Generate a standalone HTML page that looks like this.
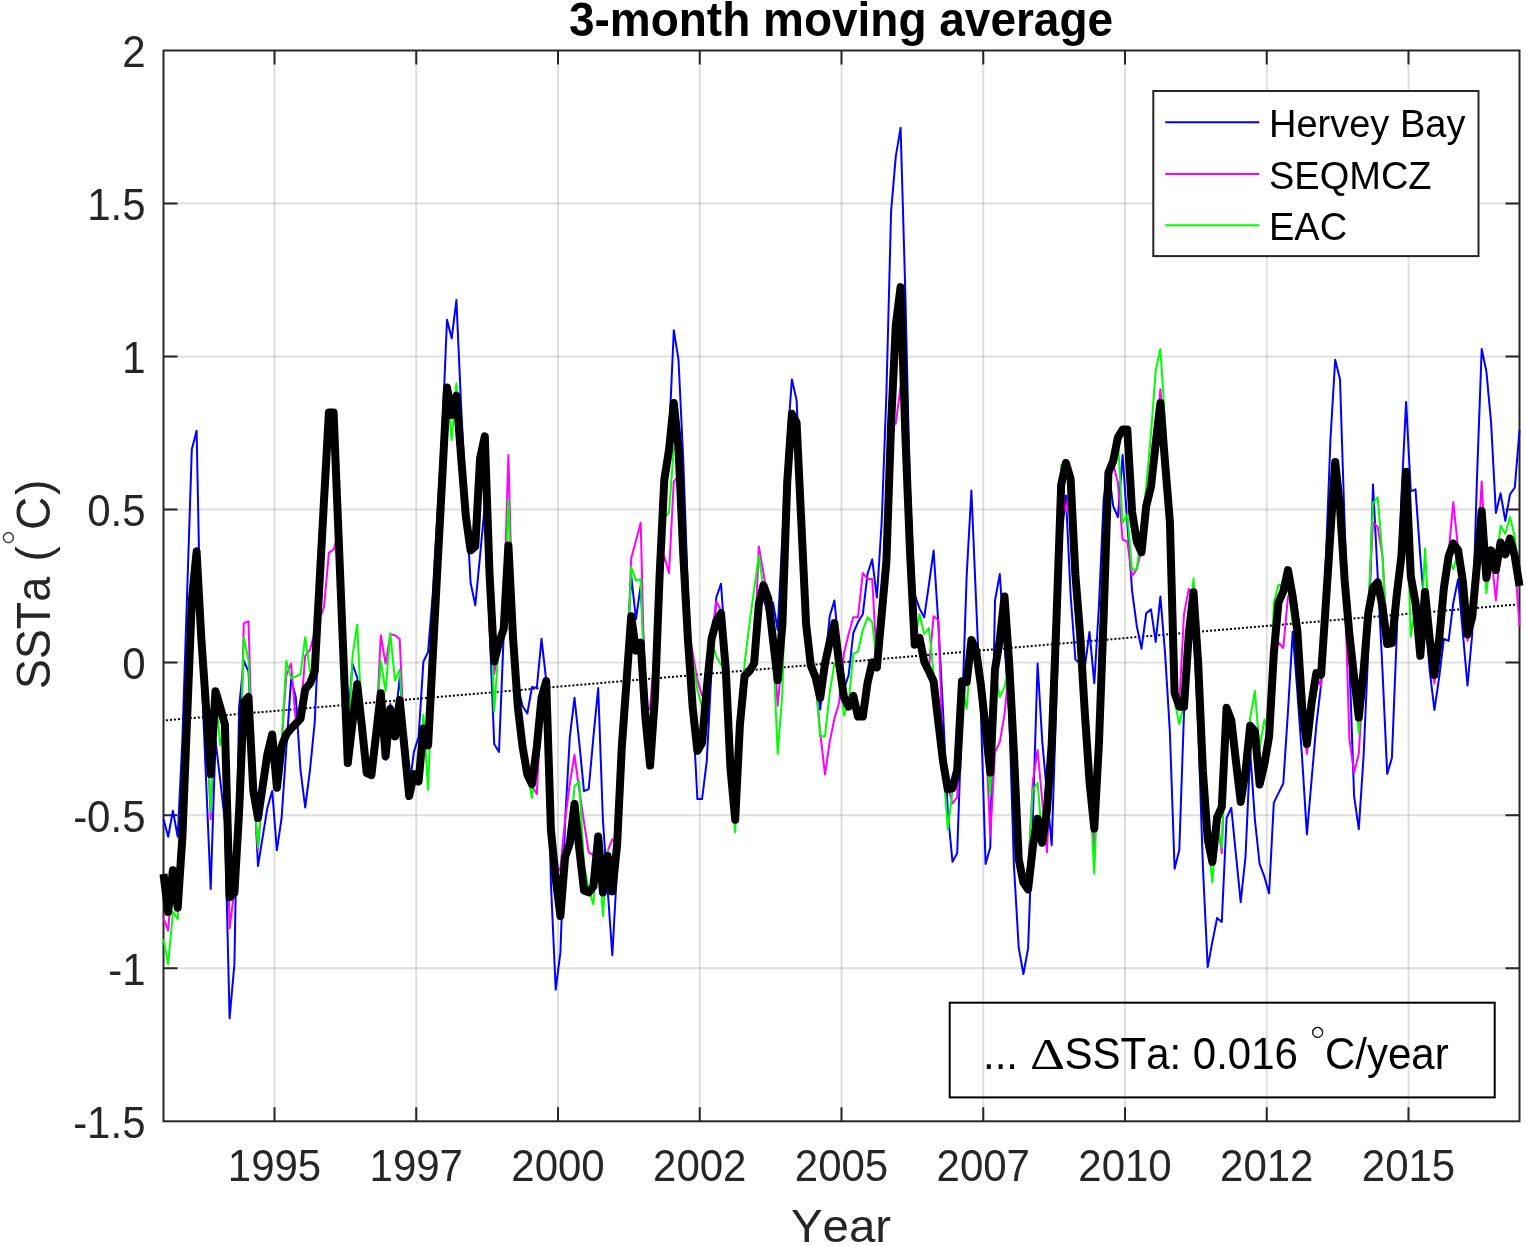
<!DOCTYPE html><html><head><meta charset="utf-8"><style>html,body{margin:0;padding:0;background:#fff}svg{display:block}text{font-family:"Liberation Sans",Arial,sans-serif;font-kerning:none}</style></head><body>
<svg width="1526" height="1246" viewBox="0 0 1526 1246">
<rect width="1526" height="1246" fill="#fff"/>
<path d="M274.50 50.5V1121.3M416.25 50.5V1121.3M558.00 50.5V1121.3M699.75 50.5V1121.3M841.50 50.5V1121.3M983.25 50.5V1121.3M1125.00 50.5V1121.3M1266.75 50.5V1121.3M1408.50 50.5V1121.3" stroke="#262626" stroke-opacity="0.15" stroke-width="2" fill="none"/>
<path d="M163.5 203.47H1519.5M163.5 356.44H1519.5M163.5 509.41H1519.5M163.5 662.38H1519.5M163.5 815.35H1519.5M163.5 968.32H1519.5" stroke="#262626" stroke-opacity="0.15" stroke-width="2" fill="none"/>
<path d="M274.50 1121.3V1107.3M274.50 50.5V64.5M416.25 1121.3V1107.3M416.25 50.5V64.5M558.00 1121.3V1107.3M558.00 50.5V64.5M699.75 1121.3V1107.3M699.75 50.5V64.5M841.50 1121.3V1107.3M841.50 50.5V64.5M983.25 1121.3V1107.3M983.25 50.5V64.5M1125.00 1121.3V1107.3M1125.00 50.5V64.5M1266.75 1121.3V1107.3M1266.75 50.5V64.5M1408.50 1121.3V1107.3M1408.50 50.5V64.5M163.5 203.47H177.5M1519.5 203.47H1505.5M163.5 356.44H177.5M1519.5 356.44H1505.5M163.5 509.41H177.5M1519.5 509.41H1505.5M163.5 662.38H177.5M1519.5 662.38H1505.5M163.5 815.35H177.5M1519.5 815.35H1505.5M163.5 968.32H177.5M1519.5 968.32H1505.5" stroke="#262626" stroke-width="2" fill="none"/>
<rect x="163.5" y="50.5" width="1356.0" height="1070.8" fill="none" stroke="#262626" stroke-width="2"/>
<g fill="none" stroke-linejoin="round" stroke-linecap="butt">
<path d="M163.5 720.51L1519.5 604.25" stroke="#000" stroke-width="2" stroke-dasharray="2 2" stroke-dashoffset="1.6"/>
<path d="M163.5,819.1 L168.2,836.8 L172.9,810.7 L177.7,836.8 L182.4,739.0 L187.1,594.2 L191.8,449.4 L196.6,430.8 L201.3,667.6 L206.0,778.3 L210.7,889.0 L215.5,740.4 L220.2,780.1 L224.9,821.7 L229.6,1018.3 L234.4,964.1 L239.1,707.0 L243.8,660.8 L248.5,671.6 L253.3,768.8 L258.0,866.0 L262.7,836.9 L267.4,807.7 L272.2,790.9 L276.9,850.3 L281.6,818.0 L286.3,748.7 L291.1,679.4 L295.8,697.1 L300.5,770.0 L305.2,807.5 L310.0,770.0 L314.7,722.7 L319.4,619.3 L324.1,515.9 L328.9,412.5 L333.6,412.5 L338.3,529.3 L343.0,626.5 L347.8,723.7 L352.5,663.7 L357.2,677.5 L361.9,722.0 L366.7,770.8 L371.4,775.2 L376.1,735.5 L380.8,695.8 L385.6,760.0 L390.3,704.0 L395.0,722.7 L399.7,677.5 L404.5,733.0 L409.2,788.5 L413.9,751.9 L418.6,736.9 L423.4,661.7 L428.1,651.9 L432.8,593.6 L437.5,512.7 L442.3,431.7 L447.0,319.7 L451.7,338.3 L456.4,300.0 L461.2,407.8 L465.9,498.3 L470.6,582.8 L475.3,605.4 L480.1,555.3 L484.8,505.2 L489.5,624.6 L494.2,744.0 L499.0,751.9 L503.7,634.9 L508.4,549.4 L513.1,640.8 L517.9,687.3 L522.6,706.3 L527.3,713.5 L532.0,687.0 L536.8,688.0 L541.5,638.8 L546.2,680.1 L550.9,882.6 L555.7,989.7 L560.4,952.4 L565.1,821.7 L569.8,737.1 L574.5,697.8 L579.3,743.0 L584.0,791.2 L588.7,789.2 L593.4,737.1 L598.2,688.0 L602.9,819.7 L607.6,888.5 L612.3,955.3 L617.1,868.8 L621.8,749.3 L626.5,663.1 L631.2,575.9 L636.0,619.2 L640.7,585.7 L645.4,679.5 L650.1,746.6 L654.9,697.8 L659.6,572.0 L664.3,471.7 L669.0,438.3 L673.8,330.2 L678.5,359.7 L683.2,458.0 L687.9,591.3 L692.7,708.0 L697.4,799.1 L702.1,799.1 L706.8,760.7 L711.6,668.3 L716.3,597.5 L721.0,583.8 L725.7,648.7 L730.5,755.6 L735.2,813.4 L739.9,715.5 L744.6,669.5 L749.4,668.2 L754.1,663.5 L758.8,610.4 L763.5,597.2 L768.3,616.3 L773.0,602.5 L777.7,630.0 L782.4,536.7 L787.2,443.3 L791.9,379.4 L796.6,400.1 L801.3,506.9 L806.1,616.6 L810.8,669.4 L815.5,685.1 L820.2,709.7 L825.0,663.0 L829.7,616.3 L834.4,600.5 L839.1,648.4 L843.9,689.4 L848.6,675.3 L853.3,633.0 L858.0,622.2 L862.8,614.3 L867.5,574.0 L872.2,559.3 L876.9,597.6 L881.7,522.0 L886.4,394.2 L891.1,211.3 L895.8,156.3 L900.6,127.8 L905.3,291.9 L910.0,492.5 L914.7,594.7 L919.5,608.4 L924.2,617.3 L928.9,584.8 L933.6,550.5 L938.4,624.2 L943.1,712.6 L947.8,812.4 L952.5,861.9 L957.2,853.1 L962.0,714.1 L966.7,575.0 L971.4,490.5 L976.1,601.6 L980.9,712.6 L985.6,863.9 L990.3,847.2 L995.0,600.5 L999.8,574.1 L1004.5,643.4 L1009.2,712.6 L1013.9,864.9 L1018.7,947.5 L1023.4,974.0 L1028.1,948.4 L1032.8,819.7 L1037.6,663.5 L1042.3,742.1 L1047.0,793.7 L1051.7,845.2 L1056.5,696.5 L1061.2,539.9 L1065.9,495.4 L1070.6,594.7 L1075.4,659.5 L1080.1,663.5 L1084.8,667.4 L1089.5,632.0 L1094.3,683.2 L1099.0,604.5 L1103.7,498.4 L1108.4,468.9 L1113.2,506.2 L1117.9,517.0 L1122.6,455.1 L1127.3,522.9 L1132.1,590.8 L1136.8,626.1 L1141.5,648.7 L1146.2,613.3 L1151.0,609.4 L1155.7,641.9 L1160.4,596.6 L1165.1,653.7 L1169.9,732.3 L1174.6,868.8 L1179.3,850.1 L1184.0,712.6 L1188.8,634.0 L1193.5,624.2 L1198.2,727.3 L1202.9,866.8 L1207.7,967.1 L1212.4,941.6 L1217.1,918.0 L1221.8,921.9 L1226.6,818.0 L1231.3,807.9 L1236.0,855.1 L1240.7,902.2 L1245.5,857.0 L1250.2,751.5 L1254.9,819.6 L1259.6,863.9 L1264.4,876.7 L1269.1,893.4 L1273.8,802.9 L1278.5,793.1 L1283.3,783.4 L1288.0,711.0 L1292.7,631.7 L1297.4,692.5 L1302.2,759.2 L1306.9,834.4 L1311.6,779.6 L1316.3,725.3 L1321.1,684.2 L1325.8,561.3 L1330.5,438.3 L1335.2,359.7 L1340.0,379.3 L1344.7,526.8 L1349.4,660.1 L1354.1,796.2 L1358.8,829.1 L1363.6,755.8 L1368.3,649.4 L1373.0,484.5 L1377.7,576.0 L1382.5,670.7 L1387.2,773.9 L1391.9,757.9 L1396.6,638.8 L1401.4,497.3 L1406.1,401.9 L1410.8,491.4 L1415.5,489.4 L1420.3,556.3 L1425.0,613.5 L1429.7,670.7 L1434.4,710.0 L1439.2,677.1 L1443.9,638.8 L1448.6,640.9 L1453.3,602.7 L1458.1,579.3 L1462.8,632.4 L1467.5,685.6 L1472.2,634.5 L1477.0,477.6 L1481.7,348.9 L1486.4,371.5 L1491.1,422.6 L1495.9,513.0 L1500.6,493.3 L1505.3,520.9 L1510.0,494.4 L1514.8,487.5 L1519.5,430.4" stroke="#0000ff" stroke-width="2"/>
<path d="M163.5,918.2 L168.2,930.7 L172.9,867.2 L177.7,904.7 L182.4,833.8 L187.1,715.8 L191.8,603.8 L196.6,547.7 L201.3,638.1 L206.0,709.2 L210.7,819.1 L215.5,694.2 L220.2,710.0 L224.9,727.6 L229.6,928.6 L234.4,890.1 L239.1,808.7 L243.8,623.4 L248.5,621.4 L253.3,787.9 L258.0,849.3 L262.7,789.1 L267.4,757.1 L272.2,737.5 L276.9,784.7 L281.6,743.3 L286.3,675.5 L291.1,663.7 L295.8,720.7 L300.5,715.8 L305.2,655.8 L310.0,649.9 L314.7,632.2 L319.4,619.5 L324.1,606.7 L328.9,552.6 L333.6,549.7 L338.3,532.3 L343.0,643.1 L347.8,760.0 L352.5,719.7 L357.2,681.3 L361.9,723.6 L366.7,770.1 L371.4,772.2 L376.1,731.2 L380.8,635.2 L385.6,663.7 L390.3,634.2 L395.0,635.2 L399.7,639.1 L404.5,745.1 L409.2,793.1 L413.9,771.2 L418.6,778.5 L423.4,725.6 L428.1,742.3 L432.8,652.8 L437.5,563.4 L442.3,479.9 L447.0,390.5 L451.7,417.9 L456.4,398.7 L461.2,458.0 L465.9,507.1 L470.6,547.4 L475.3,549.5 L480.1,461.0 L484.8,439.3 L489.5,629.0 L494.2,674.2 L499.0,641.8 L503.7,609.3 L508.4,455.0 L513.1,635.8 L517.9,704.6 L522.6,743.9 L527.3,771.5 L532.0,786.3 L536.8,794.1 L541.5,700.8 L546.2,684.1 L550.9,832.5 L555.7,875.7 L560.4,867.8 L565.1,819.8 L569.8,783.6 L574.5,754.8 L579.3,790.3 L584.0,822.0 L588.7,852.4 L593.4,855.1 L598.2,839.4 L602.9,889.4 L607.6,851.1 L612.3,839.3 L617.1,842.2 L621.8,743.9 L626.5,679.1 L631.2,558.2 L636.0,540.6 L640.7,522.8 L645.4,714.5 L650.1,707.6 L654.9,648.6 L659.6,578.9 L664.3,556.3 L669.0,573.0 L673.8,481.6 L678.5,475.7 L683.2,553.3 L687.9,631.0 L692.7,652.8 L697.4,680.1 L702.1,695.8 L706.8,685.0 L711.6,635.8 L716.3,601.5 L721.0,610.2 L725.7,665.3 L730.5,765.6 L735.2,816.7 L739.9,721.9 L744.6,672.7 L749.4,668.3 L754.1,660.5 L758.8,546.5 L763.5,573.1 L768.3,601.6 L773.0,642.9 L777.7,705.8 L782.4,653.7 L787.2,485.6 L791.9,416.8 L796.6,425.7 L801.3,525.0 L806.1,627.2 L810.8,668.4 L815.5,680.2 L820.2,732.3 L825.0,774.6 L829.7,742.1 L834.4,718.5 L839.1,702.8 L843.9,653.7 L848.6,634.0 L853.3,617.3 L858.0,617.3 L862.8,573.0 L867.5,579.0 L872.2,579.0 L876.9,663.5 L881.7,611.3 L886.4,558.3 L891.1,426.7 L895.8,423.7 L900.6,386.3 L905.3,430.5 L910.0,548.4 L914.7,641.8 L919.5,634.9 L924.2,658.5 L928.9,668.3 L933.6,616.3 L938.4,620.2 L943.1,758.8 L947.8,786.3 L952.5,803.5 L957.2,797.2 L962.0,684.2 L966.7,685.1 L971.4,642.9 L976.1,653.7 L980.9,688.1 L985.6,731.4 L990.3,836.4 L995.0,752.0 L999.8,742.1 L1004.5,714.6 L1009.2,666.5 L1013.9,755.0 L1018.7,856.0 L1023.4,879.6 L1028.1,872.7 L1032.8,781.5 L1037.6,750.0 L1042.3,801.1 L1047.0,852.1 L1051.7,747.1 L1056.5,621.3 L1061.2,487.6 L1065.9,512.1 L1070.6,481.7 L1075.4,578.0 L1080.1,637.0 L1084.8,715.6 L1089.5,784.5 L1094.3,853.1 L1099.0,745.1 L1103.7,617.3 L1108.4,475.8 L1113.2,464.0 L1117.9,482.6 L1122.6,539.6 L1127.3,541.6 L1132.1,576.0 L1136.8,569.1 L1141.5,549.4 L1146.2,503.2 L1151.0,483.6 L1155.7,440.3 L1160.4,389.2 L1165.1,460.0 L1169.9,519.0 L1174.6,690.0 L1179.3,703.7 L1184.0,614.3 L1188.8,588.8 L1193.5,595.2 L1198.2,666.5 L1202.9,768.1 L1207.7,836.3 L1212.4,862.9 L1217.1,820.7 L1221.8,853.1 L1226.6,710.8 L1231.3,723.5 L1236.0,764.8 L1240.7,804.9 L1245.5,774.6 L1250.2,728.7 L1254.9,734.4 L1259.6,781.5 L1264.4,764.3 L1269.1,733.4 L1273.8,656.7 L1278.5,642.5 L1283.3,648.1 L1288.0,596.4 L1292.7,599.8 L1297.4,634.5 L1302.2,711.0 L1306.9,753.8 L1311.6,705.7 L1316.3,676.1 L1321.1,686.3 L1325.8,607.0 L1330.5,535.0 L1335.2,464.9 L1340.0,510.1 L1344.7,583.8 L1349.4,738.8 L1354.1,772.8 L1358.8,753.6 L1363.6,673.7 L1368.3,610.3 L1373.0,522.8 L1377.7,526.8 L1382.5,556.3 L1387.2,641.1 L1391.9,640.0 L1396.6,593.3 L1401.4,559.3 L1406.1,474.7 L1410.8,579.3 L1415.5,605.7 L1420.3,652.8 L1425.0,595.0 L1429.7,641.8 L1434.4,683.5 L1439.2,638.1 L1443.9,590.8 L1448.6,553.3 L1453.3,502.2 L1458.1,548.4 L1462.8,583.8 L1467.5,640.9 L1472.2,614.5 L1477.0,561.4 L1481.7,481.6 L1486.4,574.9 L1491.1,553.4 L1495.9,600.5 L1500.6,545.5 L1505.3,557.3 L1510.0,541.6 L1514.8,559.3 L1519.5,626.0" stroke="#ff00ff" stroke-width="2"/>
<path d="M163.5,939.0 L168.2,964.1 L172.9,911.9 L177.7,919.2 L182.4,839.8 L187.1,721.8 L191.8,603.8 L196.6,554.6 L201.3,641.1 L206.0,709.2 L210.7,811.7 L215.5,694.2 L220.2,745.3 L224.9,723.7 L229.6,894.3 L234.4,890.1 L239.1,808.7 L243.8,637.2 L248.5,659.8 L253.3,787.9 L258.0,847.2 L262.7,789.1 L267.4,757.1 L272.2,737.5 L276.9,784.7 L281.6,743.3 L286.3,660.8 L291.1,678.4 L295.8,676.5 L300.5,674.5 L305.2,637.2 L310.0,671.6 L314.7,669.8 L319.4,588.2 L324.1,501.8 L328.9,415.5 L333.6,415.5 L338.3,532.3 L343.0,649.2 L347.8,760.0 L352.5,655.8 L357.2,624.4 L361.9,723.6 L366.7,770.1 L371.4,772.2 L376.1,731.2 L380.8,660.8 L385.6,691.2 L390.3,633.2 L395.0,680.4 L399.7,669.6 L404.5,745.1 L409.2,793.1 L413.9,771.2 L418.6,778.5 L423.4,714.8 L428.1,789.8 L432.8,658.9 L437.5,569.4 L442.3,479.9 L447.0,390.5 L451.7,439.9 L456.4,383.3 L461.2,455.0 L465.9,514.0 L470.6,547.4 L475.3,547.4 L480.1,461.0 L484.8,439.3 L489.5,576.0 L494.2,711.6 L499.0,640.8 L503.7,626.0 L508.4,499.3 L513.1,635.8 L517.9,704.6 L522.6,743.9 L527.3,771.5 L532.0,798.1 L536.8,750.0 L541.5,700.8 L546.2,684.1 L550.9,826.5 L555.7,875.7 L560.4,913.0 L565.1,854.0 L569.8,840.3 L574.5,786.3 L579.3,781.4 L584.0,864.9 L588.7,889.4 L593.4,904.2 L598.2,839.4 L602.9,916.0 L607.6,851.1 L612.3,888.4 L617.1,842.2 L621.8,743.9 L626.5,679.1 L631.2,567.1 L636.0,580.8 L640.7,578.9 L645.4,714.5 L650.1,717.4 L654.9,694.8 L659.6,578.9 L664.3,517.0 L669.0,513.0 L673.8,448.1 L678.5,451.1 L683.2,556.3 L687.9,636.0 L692.7,660.0 L697.4,690.0 L702.1,706.6 L706.8,689.9 L711.6,641.8 L716.3,656.5 L721.0,664.4 L725.7,671.3 L730.5,771.6 L735.2,832.5 L739.9,727.9 L744.6,663.7 L749.4,624.2 L754.1,590.0 L758.8,555.4 L763.5,588.3 L768.3,601.6 L773.0,642.9 L777.7,753.9 L782.4,693.0 L787.2,485.6 L791.9,416.8 L796.6,425.7 L801.3,525.0 L806.1,627.2 L810.8,668.4 L815.5,680.2 L820.2,736.2 L825.0,736.2 L829.7,693.0 L834.4,663.5 L839.1,666.5 L843.9,715.6 L848.6,703.7 L853.3,653.7 L858.0,651.7 L862.8,630.0 L867.5,617.3 L872.2,622.2 L876.9,663.5 L881.7,611.3 L886.4,558.3 L891.1,426.7 L895.8,328.3 L900.6,335.2 L905.3,430.5 L910.0,548.4 L914.7,641.8 L919.5,614.3 L924.2,634.0 L928.9,628.1 L933.6,673.3 L938.4,725.4 L943.1,764.8 L947.8,829.5 L952.5,791.3 L957.2,769.1 L962.0,684.2 L966.7,708.7 L971.4,642.9 L976.1,653.7 L980.9,688.1 L985.6,731.4 L990.3,795.2 L995.0,672.4 L999.8,696.9 L1004.5,687.1 L1009.2,666.5 L1013.9,755.0 L1018.7,856.0 L1023.4,879.6 L1028.1,870.8 L1032.8,790.3 L1037.6,782.9 L1042.3,839.8 L1047.0,806.8 L1051.7,741.1 L1056.5,615.3 L1061.2,464.9 L1065.9,466.0 L1070.6,481.7 L1075.4,578.0 L1080.1,637.0 L1084.8,715.6 L1089.5,784.5 L1094.3,873.7 L1099.0,745.1 L1103.7,617.3 L1108.4,475.8 L1113.2,447.2 L1117.9,440.4 L1122.6,522.9 L1127.3,514.1 L1132.1,570.1 L1136.8,569.1 L1141.5,531.8 L1146.2,486.6 L1151.0,433.5 L1155.7,370.6 L1160.4,348.9 L1165.1,423.7 L1169.9,525.0 L1174.6,700.8 L1179.3,724.4 L1184.0,703.7 L1188.8,631.0 L1193.5,578.5 L1198.2,660.5 L1202.9,768.1 L1207.7,836.3 L1212.4,882.6 L1217.1,820.7 L1221.8,848.2 L1226.6,710.8 L1231.3,723.5 L1236.0,764.8 L1240.7,798.9 L1245.5,768.6 L1250.2,717.9 L1254.9,691.0 L1259.6,748.7 L1264.4,719.6 L1269.1,733.4 L1273.8,602.7 L1278.5,584.7 L1283.3,585.7 L1288.0,584.8 L1292.7,624.2 L1297.4,632.0 L1302.2,705.0 L1306.9,741.1 L1311.6,699.7 L1316.3,670.1 L1321.1,671.6 L1325.8,607.0 L1330.5,535.0 L1335.2,464.9 L1340.0,510.1 L1344.7,583.8 L1349.4,637.5 L1354.1,680.1 L1358.8,733.4 L1363.6,667.7 L1368.3,610.3 L1373.0,503.2 L1377.7,497.3 L1382.5,556.3 L1387.2,641.1 L1391.9,640.0 L1396.6,596.5 L1401.4,559.3 L1406.1,474.7 L1410.8,636.7 L1415.5,605.7 L1420.3,652.8 L1425.0,548.4 L1429.7,635.8 L1434.4,672.0 L1439.2,635.8 L1443.9,584.8 L1448.6,559.3 L1453.3,569.1 L1458.1,553.4 L1462.8,577.8 L1467.5,631.5 L1472.2,614.5 L1477.0,567.4 L1481.7,514.1 L1486.4,593.1 L1491.1,553.4 L1495.9,567.0 L1500.6,525.8 L1505.3,533.7 L1510.0,517.0 L1514.8,536.6 L1519.5,583.0" stroke="#00ff00" stroke-width="2"/>
<path d="M163.5,874.0 L168.2,911.9 L172.9,870.2 L177.7,907.7 L182.4,836.8 L187.1,718.8 L191.8,600.8 L196.6,551.6 L201.3,638.1 L206.0,706.2 L210.7,774.2 L215.5,691.2 L220.2,707.0 L224.9,724.6 L229.6,897.3 L234.4,893.1 L239.1,811.7 L243.8,702.0 L248.5,697.1 L253.3,790.9 L258.0,818.0 L262.7,786.1 L267.4,754.1 L272.2,734.5 L276.9,787.7 L281.6,746.3 L286.3,734.5 L291.1,728.6 L295.8,723.7 L300.5,718.8 L305.2,689.3 L310.0,683.4 L314.7,671.6 L319.4,585.2 L324.1,498.8 L328.9,412.5 L333.6,412.5 L338.3,529.3 L343.0,646.2 L347.8,763.0 L352.5,722.7 L357.2,684.3 L361.9,726.6 L366.7,773.1 L371.4,775.2 L376.1,734.2 L380.8,693.2 L385.6,756.1 L390.3,708.9 L395.0,736.4 L399.7,700.1 L404.5,748.1 L409.2,796.1 L413.9,774.2 L418.6,781.5 L423.4,728.6 L428.1,745.3 L432.8,655.8 L437.5,566.4 L442.3,476.9 L447.0,387.5 L451.7,414.9 L456.4,395.7 L461.2,458.0 L465.9,517.0 L470.6,550.4 L475.3,546.5 L480.1,458.0 L484.8,436.4 L489.5,573.0 L494.2,661.4 L499.0,642.7 L503.7,629.0 L508.4,545.4 L513.1,638.8 L517.9,707.6 L522.6,746.9 L527.3,774.5 L532.0,784.3 L536.8,746.9 L541.5,697.8 L546.2,681.1 L550.9,829.5 L555.7,878.6 L560.4,916.0 L565.1,857.0 L569.8,843.3 L574.5,804.0 L579.3,849.2 L584.0,890.5 L588.7,892.4 L593.4,886.5 L598.2,836.4 L602.9,892.4 L607.6,856.0 L612.3,891.4 L617.1,845.2 L621.8,746.9 L626.5,682.1 L631.2,616.2 L636.0,650.6 L640.7,642.7 L645.4,717.4 L650.1,765.6 L654.9,697.8 L659.6,575.9 L664.3,479.6 L669.0,450.1 L673.8,402.9 L678.5,448.1 L683.2,553.3 L687.9,638.8 L692.7,707.6 L697.4,750.9 L702.1,743.0 L706.8,688.0 L711.6,638.8 L716.3,621.1 L721.0,613.2 L725.7,668.3 L730.5,768.6 L735.2,819.7 L739.9,724.9 L744.6,675.7 L749.4,671.3 L754.1,663.5 L758.8,604.5 L763.5,585.3 L768.3,598.6 L773.0,639.9 L777.7,680.2 L782.4,624.2 L787.2,482.6 L791.9,413.8 L796.6,422.7 L801.3,522.0 L806.1,624.2 L810.8,665.4 L815.5,677.2 L820.2,697.9 L825.0,663.5 L829.7,641.9 L834.4,623.2 L839.1,663.5 L843.9,696.9 L848.6,706.7 L853.3,695.9 L858.0,716.6 L862.8,716.6 L867.5,683.2 L872.2,662.5 L876.9,667.4 L881.7,614.3 L886.4,561.3 L891.1,423.7 L895.8,325.3 L900.6,287.1 L905.3,433.5 L910.0,551.4 L914.7,644.8 L919.5,637.9 L924.2,661.5 L928.9,671.3 L933.6,681.2 L938.4,722.5 L943.1,761.8 L947.8,789.3 L952.5,788.3 L957.2,770.0 L962.0,681.2 L966.7,682.1 L971.4,639.9 L976.1,650.7 L980.9,685.1 L985.6,728.4 L990.3,772.6 L995.0,669.4 L999.8,639.9 L1004.5,596.6 L1009.2,663.5 L1013.9,752.0 L1018.7,859.0 L1023.4,882.6 L1028.1,889.4 L1032.8,847.2 L1037.6,818.7 L1042.3,842.8 L1047.0,809.8 L1051.7,744.1 L1056.5,618.3 L1061.2,484.6 L1065.9,463.0 L1070.6,478.7 L1075.4,575.0 L1080.1,634.0 L1084.8,712.6 L1089.5,781.5 L1094.3,828.6 L1099.0,742.1 L1103.7,614.3 L1108.4,472.8 L1113.2,461.0 L1117.9,437.4 L1122.6,429.6 L1127.3,429.6 L1132.1,512.1 L1136.8,541.6 L1141.5,552.4 L1146.2,506.2 L1151.0,486.6 L1155.7,443.3 L1160.4,403.0 L1165.1,463.0 L1169.9,522.0 L1174.6,693.0 L1179.3,706.7 L1184.0,706.7 L1188.8,634.0 L1193.5,592.2 L1198.2,663.5 L1202.9,771.0 L1207.7,839.3 L1212.4,861.9 L1217.1,817.7 L1221.8,806.9 L1226.6,707.8 L1231.3,720.5 L1236.0,761.8 L1240.7,801.9 L1245.5,771.6 L1250.2,725.7 L1254.9,731.3 L1259.6,784.5 L1264.4,764.1 L1269.1,736.4 L1273.8,653.7 L1278.5,602.5 L1283.3,591.3 L1288.0,570.1 L1292.7,596.8 L1297.4,631.5 L1302.2,708.0 L1306.9,744.1 L1311.6,702.7 L1316.3,673.1 L1321.1,674.6 L1325.8,604.0 L1330.5,532.0 L1335.2,461.9 L1340.0,507.1 L1344.7,580.8 L1349.4,634.5 L1354.1,677.1 L1358.8,717.5 L1363.6,670.7 L1368.3,613.3 L1373.0,587.8 L1377.7,582.2 L1382.5,606.9 L1387.2,644.1 L1391.9,643.0 L1396.6,596.3 L1401.4,556.3 L1406.1,471.7 L1410.8,576.3 L1415.5,602.7 L1420.3,655.8 L1425.0,592.0 L1429.7,638.8 L1434.4,675.0 L1439.2,638.8 L1443.9,587.8 L1448.6,556.3 L1453.3,543.5 L1458.1,550.4 L1462.8,580.8 L1467.5,634.5 L1472.2,617.5 L1477.0,564.4 L1481.7,511.1 L1486.4,577.9 L1491.1,550.4 L1495.9,570.0 L1500.6,542.5 L1505.3,554.3 L1510.0,538.6 L1514.8,556.3 L1519.5,586.0" stroke="#000" stroke-width="8"/>
</g>
<text transform="translate(145.50 67.30) scale(1 1.05)" font-size="42" fill="#262626" text-anchor="end">2</text>
<text transform="translate(145.50 220.27) scale(1 1.05)" font-size="42" fill="#262626" text-anchor="end">1.5</text>
<text transform="translate(145.50 373.24) scale(1 1.05)" font-size="42" fill="#262626" text-anchor="end">1</text>
<text transform="translate(145.50 526.21) scale(1 1.05)" font-size="42" fill="#262626" text-anchor="end">0.5</text>
<text transform="translate(145.50 679.18) scale(1 1.05)" font-size="42" fill="#262626" text-anchor="end">0</text>
<text transform="translate(145.50 832.15) scale(1 1.05)" font-size="42" fill="#262626" text-anchor="end">-0.5</text>
<text transform="translate(145.50 985.12) scale(1 1.05)" font-size="42" fill="#262626" text-anchor="end">-1</text>
<text transform="translate(145.50 1138.09) scale(1 1.05)" font-size="42" fill="#262626" text-anchor="end">-1.5</text>
<text transform="translate(274.50 1181.00) scale(1 1.05)" font-size="42" fill="#262626" text-anchor="middle">1995</text>
<text transform="translate(416.25 1181.00) scale(1 1.05)" font-size="42" fill="#262626" text-anchor="middle">1997</text>
<text transform="translate(558.00 1181.00) scale(1 1.05)" font-size="42" fill="#262626" text-anchor="middle">2000</text>
<text transform="translate(699.75 1181.00) scale(1 1.05)" font-size="42" fill="#262626" text-anchor="middle">2002</text>
<text transform="translate(841.50 1181.00) scale(1 1.05)" font-size="42" fill="#262626" text-anchor="middle">2005</text>
<text transform="translate(983.25 1181.00) scale(1 1.05)" font-size="42" fill="#262626" text-anchor="middle">2007</text>
<text transform="translate(1125.00 1181.00) scale(1 1.05)" font-size="42" fill="#262626" text-anchor="middle">2010</text>
<text transform="translate(1266.75 1181.00) scale(1 1.05)" font-size="42" fill="#262626" text-anchor="middle">2012</text>
<text transform="translate(1408.50 1181.00) scale(1 1.05)" font-size="42" fill="#262626" text-anchor="middle">2015</text>
<text transform="translate(841.00 1241.80) scale(1.03 1.02)" font-size="46" fill="#262626" text-anchor="middle">Year</text>
<g transform="translate(50.3 0) rotate(-90)">
<text transform="translate(-689.00 0.00) scale(0.975 1.04)" font-size="46" fill="#262626">SSTa</text>
<text transform="translate(-561.50 0.00) scale(1 1.04)" font-size="46" fill="#262626">(</text>
<text x="-543.80" y="-37.90" font-size="14" fill="#262626" style="font-family:'DejaVu Sans'" stroke="#262626" stroke-width="0.45">○</text>
<text transform="translate(-530.10 0.00) scale(1 1.04)" font-size="46" fill="#262626">C</text>
<text transform="translate(-494.90 0.00) scale(1 1.04)" font-size="46" fill="#262626">)</text>
</g>
<text transform="translate(841.00 36.20) scale(1 1.04)" font-size="46" fill="#000" text-anchor="middle" font-weight="bold">3-month moving average</text>
<rect x="1153.3" y="91" width="325.2" height="165.1" fill="#fff" stroke="#262626" stroke-width="2"/>
<path d="M1165.2 122.2H1259.3" stroke="#0000ff" stroke-width="2"/>
<text x="1269.00" y="137.20" font-size="38" fill="#000">Hervey Bay</text>
<path d="M1165.2 174.0H1259.3" stroke="#ff00ff" stroke-width="2"/>
<text x="1269.00" y="189.00" font-size="38" fill="#000">SEQMCZ</text>
<path d="M1165.2 225.2H1259.3" stroke="#00ff00" stroke-width="2"/>
<text x="1269.00" y="240.20" font-size="38" fill="#000">EAC</text>
<rect x="949.7" y="1002.7" width="545" height="94.7" fill="none" stroke="#000" stroke-width="2"/>
<text transform="translate(983.00 1068.80) scale(1 1.05)" font-size="42" fill="#000">...</text>
<text transform="translate(1030.00 1068.80) scale(1.21 1)" font-size="45" fill="#000" style="font-family:'Liberation Serif'">Δ</text>
<text transform="translate(1064.50 1068.80) scale(1 1.05)" font-size="42" fill="#000">SSTa: 0.016</text>
<text x="1311.50" y="1035.60" font-size="14" fill="#000" style="font-family:'DejaVu Sans'" stroke="#000" stroke-width="0.45">○</text>
<text transform="translate(1325.00 1068.80) scale(1 1.05)" font-size="42" fill="#000">C/year</text>
</svg></body></html>
